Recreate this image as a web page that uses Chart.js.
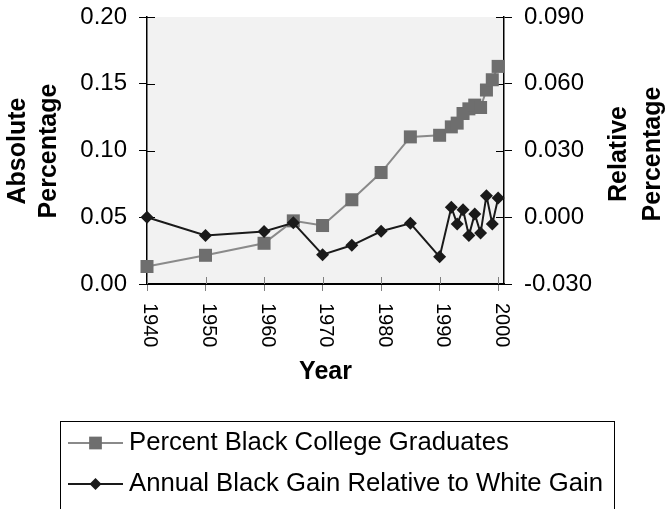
<!DOCTYPE html>
<html>
<head>
<meta charset="utf-8">
<script src="https://cdn.jsdelivr.net/npm/chart.js@4.4.1/dist/chart.umd.min.js"></script>
<style>
  html, body { margin: 0; padding: 0; background: #ffffff; }
  #wrap { width: 667px; height: 509px; position: relative; }
</style>
</head>
<body>
<div id="wrap"><canvas id="c" width="667" height="509"></canvas></div>
<script>
// Survey years
const years = [1940, 1950, 1960, 1965, 1970, 1975, 1980, 1985, 1990,
               1992, 1993, 1994, 1995, 1996, 1997, 1998, 1999, 2000];
// Share of Black adults holding a college degree (left axis)
const gradPct = [0.0131, 0.0215, 0.0305, 0.0473, 0.0438, 0.0631, 0.0835, 0.1102, 0.1114,
                 0.1177, 0.1205, 0.1277, 0.1312, 0.1340, 0.1322, 0.1453, 0.1530, 0.1630];
// Annual Black gain minus White gain (right axis)
const relGain = [0.0000, -0.0082, -0.0064, -0.0025, -0.0168, -0.0126, -0.0063, -0.0027, -0.0178,
                 0.0045, -0.0030, 0.0034, -0.0082, 0.0015, -0.0071, 0.0097, -0.0030, 0.0086];

const xTicks = [1940, 1950, 1960, 1970, 1980, 1990, 2000];
const leftTicks = [0, 0.05, 0.10, 0.15, 0.20];
const rightTicks = [-0.03, 0, 0.03, 0.06, 0.09];

const seriesNames = ['Percent Black College Graduates', 'Annual Black Gain Relative to White Gain'];
const leftTitle = ['Absolute', 'Percentage'];
const rightTitle = ['Relative', 'Percentage'];
const xTitle = 'Year';

const FAMILY = '"Liberation Sans", Arial, Helvetica, sans-serif';

// Plot background, inner halves of the tick marks, rotated year labels,
// axis titles and the boxed legend.
const decor = {
  id: 'decor',
  beforeDraw(chart) {
    const a = chart.chartArea, ctx = chart.ctx;
    ctx.save();
    ctx.fillStyle = '#f2f2f2';
    ctx.fillRect(a.left, a.top, a.right - a.left, a.bottom - a.top);
    ctx.restore();
  },
  beforeDatasetsDraw(chart) {
    const a = chart.chartArea, ctx = chart.ctx;
    const sx = chart.scales.x, sy = chart.scales.y, sy1 = chart.scales.y1;
    ctx.save();
    ctx.lineWidth = 1;
    ctx.strokeStyle = '#808080';
    xTicks.forEach(v => {
      const px = Math.round(sx.getPixelForValue(v)) + 0.5;
      ctx.beginPath(); ctx.moveTo(px, a.bottom); ctx.lineTo(px, a.bottom - 7); ctx.stroke();
    });
    ctx.strokeStyle = '#000';
    leftTicks.forEach(v => {
      const py = Math.round(sy.getPixelForValue(v)) + 0.5;
      ctx.beginPath(); ctx.moveTo(a.left, py); ctx.lineTo(a.left + 8, py); ctx.stroke();
    });
    rightTicks.forEach(v => {
      const py = Math.round(sy1.getPixelForValue(v)) + 0.5;
      ctx.beginPath(); ctx.moveTo(a.right, py); ctx.lineTo(a.right - 8, py); ctx.stroke();
    });
    ctx.restore();
  },
  afterDraw(chart) {
    const ctx = chart.ctx, a = chart.chartArea, sx = chart.scales.x;
    ctx.save();
    ctx.fillStyle = '#000';

    // year labels, reading downward
    ctx.font = '20px ' + FAMILY;
    ctx.textAlign = 'left';
    ctx.textBaseline = 'middle';
    xTicks.forEach(v => {
      ctx.save();
      ctx.translate(sx.getPixelForValue(v) + 3, a.bottom + 19);
      ctx.rotate(Math.PI / 2);
      ctx.fillText(String(v), 0, 0);
      ctx.restore();
    });

    // axis titles
    ctx.font = 'bold 25px ' + FAMILY;
    ctx.textAlign = 'center';
    ctx.fillText(xTitle, (a.left + a.right) / 2, 372);
    const vTitle = (lines, xs, cy) => {
      lines.forEach((t, i) => {
        ctx.save();
        ctx.translate(xs[i], cy);
        ctx.rotate(-Math.PI / 2);
        ctx.fillText(t, 0, 0);
        ctx.restore();
      });
    };
    vTitle(leftTitle, [18, 49], 151);
    vTitle(rightTitle, [619, 653], 154);

    // legend
    ctx.strokeStyle = '#000';
    ctx.lineWidth = 1;
    ctx.strokeRect(60.5, 421.5, 554, 120);
    const rows = [443, 484];
    chart.data.datasets.forEach((ds, i) => {
      const y = rows[i];
      ctx.strokeStyle = ds.borderColor;
      ctx.lineWidth = ds.borderWidth;
      ctx.beginPath(); ctx.moveTo(68, y); ctx.lineTo(123, y); ctx.stroke();
      ctx.fillStyle = ds.pointBackgroundColor;
      ctx.strokeStyle = ds.pointBackgroundColor;
      Chart.helpers.drawPoint(ctx, {
        pointStyle: ds.pointStyle,
        radius: i === 0 ? 9 : 6,
        rotation: 0,
        borderWidth: 0
      }, 95.5, y);
      ctx.fillStyle = '#000';
      ctx.font = '25.7px ' + FAMILY;
      ctx.textAlign = 'left';
      ctx.textBaseline = 'middle';
      ctx.fillText(ds.label, 129, y);
    });
    ctx.restore();
  }
};

new Chart(document.getElementById('c'), {
  type: 'line',
  data: {
    datasets: [
      {
        label: seriesNames[0],
        data: years.map((x, i) => ({ x, y: gradPct[i] })),
        yAxisID: 'y',
        borderColor: '#8a8a8a',
        borderWidth: 2,
        pointStyle: 'rect',
        pointRadius: 9.2,
        pointBackgroundColor: '#6e6e6e',
        pointBorderColor: '#6e6e6e',
        pointBorderWidth: 0,
        tension: 0,
        clip: false,
        order: 1
      },
      {
        label: seriesNames[1],
        data: years.map((x, i) => ({ x, y: relGain[i] })),
        yAxisID: 'y1',
        borderColor: '#1a1a1a',
        borderWidth: 2,
        pointStyle: 'rectRot',
        pointRadius: 6.5,
        pointBackgroundColor: '#1a1a1a',
        pointBorderColor: '#1a1a1a',
        pointBorderWidth: 0,
        tension: 0,
        clip: false,
        order: 0
      }
    ]
  },
  options: {
    responsive: false,
    animation: false,
    devicePixelRatio: 1,
    layout: { padding: { top: 17, left: 0, right: 0, bottom: 0 } },
    plugins: { legend: { display: false }, tooltip: { enabled: false } },
    scales: {
      x: {
        type: 'linear',
        min: 1940,
        max: 2001,
        afterBuildTicks: s => { s.ticks = xTicks.map(v => ({ value: v })); },
        afterFit: s => { s.height = 225; s.paddingLeft = 0; s.paddingRight = 0; },
        ticks: { display: false },
        grid: { drawOnChartArea: false, drawTicks: true, tickLength: 7, color: '#808080', lineWidth: 1 },
        border: { display: true, color: '#000', width: 2 }
      },
      y: {
        position: 'left',
        min: 0,
        max: 0.2,
        afterBuildTicks: s => { s.ticks = leftTicks.map(v => ({ value: v })); },
        afterFit: s => { s.width = 147; s.paddingTop = 0; s.paddingBottom = 0; },
        ticks: {
          callback: v => Number(v).toFixed(2),
          font: { size: 24, family: FAMILY },
          color: '#000',
          padding: 12
        },
        grid: { drawOnChartArea: false, drawTicks: true, tickLength: 8, color: '#000', lineWidth: 1 },
        border: { display: true, color: '#000', width: 1.5 }
      },
      y1: {
        position: 'right',
        min: -0.03,
        max: 0.09,
        afterBuildTicks: s => { s.ticks = rightTicks.map(v => ({ value: v })); },
        afterFit: s => { s.width = 163; s.paddingTop = 0; s.paddingBottom = 0; },
        ticks: {
          callback: v => Number(v).toFixed(3),
          font: { size: 24, family: FAMILY },
          color: '#000',
          padding: 12
        },
        grid: { drawOnChartArea: false, drawTicks: true, tickLength: 8, color: '#000', lineWidth: 1 },
        border: { display: true, color: '#000', width: 1.5 }
      }
    }
  },
  plugins: [decor]
});
</script>
</body>
</html>
